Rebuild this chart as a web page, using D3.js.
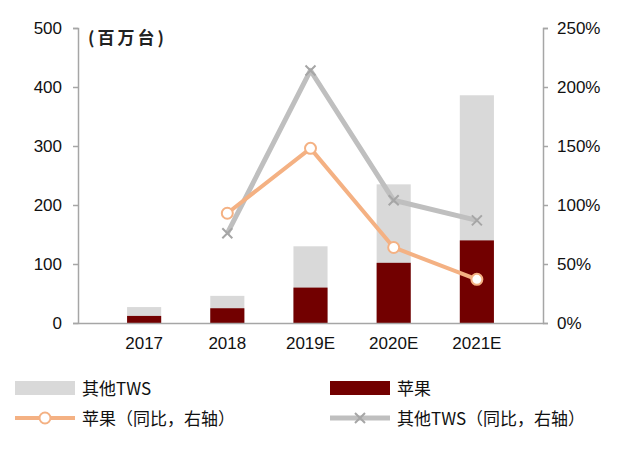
<!DOCTYPE html>
<html><head><meta charset="utf-8">
<script src="https://cdn.jsdelivr.net/npm/d3@7"></script>
<style>body{margin:0;background:#fff}text{font-family:"Noto Sans CJK SC","DejaVu Sans",sans-serif}</style>
</head><body><svg id="chart" width="640" height="449"></svg>
<script>
const years = ['2017', '2018', '2019E', '2020E', '2021E'];
const totalTWS = [27, 46, 130, 235, 386];
const apple = [12, 25, 60, 102, 140];
const appleYoy = [null, 93, 148, 64, 37];
const otherYoy = [null, 76, 214, 104, 87];
const leftTicks = [0, 100, 200, 300, 400, 500];
const rightTicks = [0, 50, 100, 150, 200, 250];

let svg = d3.select('#chart');
let x = d3.scaleBand().domain(years).range([78, 543]).padding(0.59);
let y = d3.scaleLinear().domain([0, 500]).range([323, 28]);
let yr = d3.scaleLinear().domain([0, 250]).range([323, 28]);
let gc = '#a6a6a6';

// bars
svg.selectAll('.tot').data(years).enter().append('rect')
    .attr('x', d => x(d)).attr('width', x.bandwidth())
    .attr('y', (d, i) => y(totalTWS[i])).attr('height', (d, i) => y(0) - y(totalTWS[i]))
    .attr('fill', '#d9d9d9');
svg.selectAll('.ap').data(years).enter().append('rect')
    .attr('x', d => x(d)).attr('width', x.bandwidth())
    .attr('y', (d, i) => y(apple[i])).attr('height', (d, i) => y(0) - y(apple[i]))
    .attr('fill', '#720000');

// axes
let yl = svg.append('g').attr('transform', 'translate(78,0)')
    .call(d3.axisLeft(y).tickValues(leftTicks).tickSize(5));
let yrA = svg.append('g').attr('transform', 'translate(543,0)')
    .call(d3.axisRight(yr).tickValues(rightTicks).tickSize(5).tickFormat(d => d + '%'));
let xa = svg.append('g').attr('transform', 'translate(0,323)')
    .call(d3.axisBottom(x).tickSize(0).tickPadding(14));
[yl, yrA, xa].forEach(g => {
    g.selectAll('path,line').attr('stroke', gc).attr('stroke-width', 1.5);
    g.selectAll('text').attr('font-size', 17).attr('fill', '#111').style('font-family', 'Arial, "Liberation Sans", sans-serif');
});
yl.selectAll('text').attr('x', -16);
yrA.selectAll('text').attr('x', 14);

svg.append('text').attr('x', 88).attr('y', 44).attr('font-size', 17).attr('letter-spacing', 3)
    .attr('font-weight', 'bold').attr('fill', '#222').text('(百万台)');

// lines
let pts = arr => years.map((d, i) => [x(d) + x.bandwidth() / 2, arr[i]]).filter(p => p[1] != null);
let line = d3.line().x(p => p[0]).y(p => yr(p[1]));
svg.append('path').datum(pts(otherYoy)).attr('d', line).attr('fill', 'none')
    .attr('stroke', '#bfbfbf').attr('stroke-width', 5).attr('stroke-linejoin', 'round');
pts(otherYoy).forEach(p => {
    let cx = p[0], cy = yr(p[1]);
    svg.append('path').attr('d', `M${cx-5},${cy-5}L${cx+5},${cy+5}M${cx-5},${cy+5}L${cx+5},${cy-5}`)
        .attr('stroke', '#a6a6a6').attr('stroke-width', 2);
});
svg.append('path').datum(pts(appleYoy)).attr('d', line).attr('fill', 'none')
    .attr('stroke', '#f4b183').attr('stroke-width', 4).attr('stroke-linejoin', 'round');
svg.selectAll('.mk').data(pts(appleYoy)).enter().append('circle')
    .attr('cx', p => p[0]).attr('cy', p => yr(p[1])).attr('r', 5.5)
    .attr('fill', '#fff').attr('stroke', '#f4b183').attr('stroke-width', 2);

// legend
let lg = svg.append('g').attr('font-size', 17).attr('fill', '#111');
lg.append('rect').attr('x', 15).attr('y', 381).attr('width', 60).attr('height', 14).attr('fill', '#d9d9d9');
lg.append('text').attr('x', 82).attr('y', 395).text('其他TWS');
lg.append('rect').attr('x', 330).attr('y', 381).attr('width', 60).attr('height', 14).attr('fill', '#720000');
lg.append('text').attr('x', 397).attr('y', 395).text('苹果');
lg.append('line').attr('x1', 15).attr('x2', 75).attr('y1', 418).attr('y2', 418).attr('stroke', '#f4b183').attr('stroke-width', 4);
lg.append('circle').attr('cx', 45).attr('cy', 418).attr('r', 5.5).attr('fill', '#fff').attr('stroke', '#f4b183').attr('stroke-width', 2);
lg.append('text').attr('x', 82).attr('y', 425).text('苹果（同比，右轴）');
lg.append('line').attr('x1', 330).attr('x2', 390).attr('y1', 418).attr('y2', 418).attr('stroke', '#bfbfbf').attr('stroke-width', 5);
lg.append('path').attr('d', 'M355,413L365,423M355,423L365,413').attr('stroke', '#a6a6a6').attr('stroke-width', 2);
lg.append('text').attr('x', 397).attr('y', 425).text('其他TWS（同比，右轴）');
</script></body></html>
